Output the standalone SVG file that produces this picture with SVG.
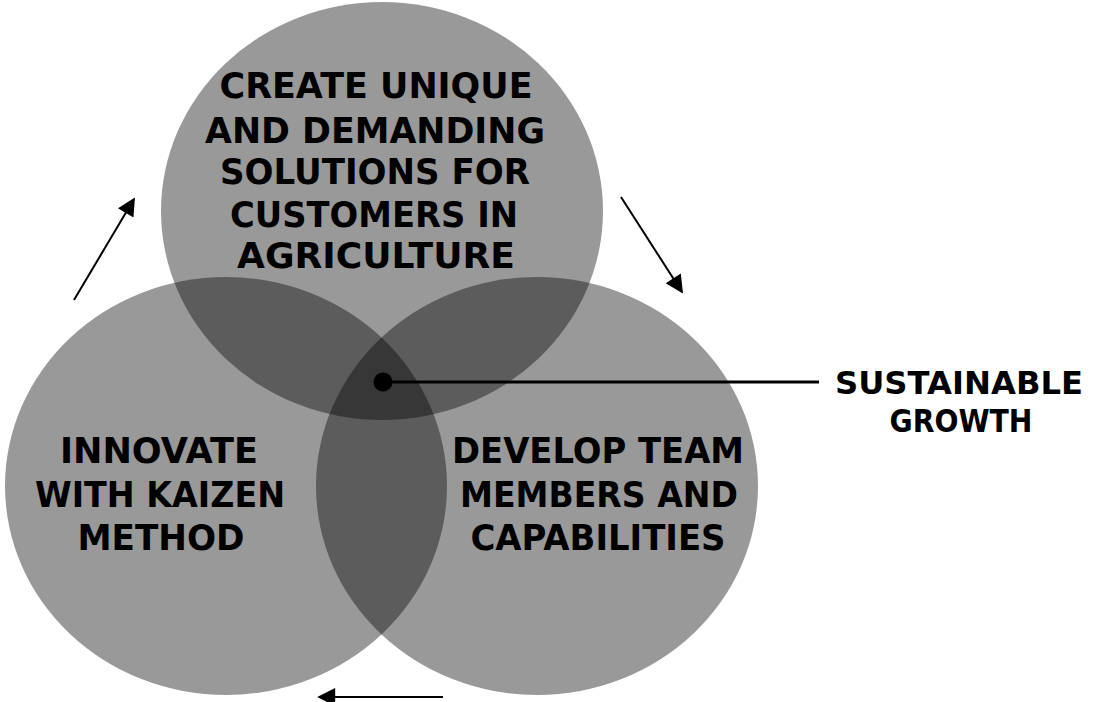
<svg xmlns="http://www.w3.org/2000/svg" width="1097" height="702" viewBox="0 0 1097 702">
<style>
.c{fill:#000;fill-opacity:0.4}
.t{font-family:"DejaVu Sans","Open Sans",sans-serif;font-weight:bold;font-size:35px;fill:#000;text-anchor:middle}
.g{font-size:32px}
.a{stroke:#000;stroke-width:2;fill:none}
</style>
<defs>
<marker id="ah" viewBox="0 0 10 10" refX="9" refY="5" markerWidth="20" markerHeight="18" markerUnits="userSpaceOnUse" orient="auto">
<path d="M0,0 L10,5 L0,10 Z" fill="#000"/>
</marker>
</defs>
<rect width="1097" height="702" fill="#fff"/>
<g id="top"><ellipse class="c" cx="382" cy="211" rx="221" ry="209"/>
<text class="t" x="376" y="98" textLength="313" lengthAdjust="spacingAndGlyphs">CREATE UNIQUE</text>
<text class="t" x="375" y="143" textLength="340" lengthAdjust="spacingAndGlyphs">AND DEMANDING</text>
<text class="t" x="375" y="184" textLength="310" lengthAdjust="spacingAndGlyphs">SOLUTIONS FOR</text>
<text class="t" x="374" y="227" textLength="288" lengthAdjust="spacingAndGlyphs">CUSTOMERS IN</text>
<text class="t" x="376" y="268" textLength="278" lengthAdjust="spacingAndGlyphs">AGRICULTURE</text></g>
<g id="left"><ellipse class="c" cx="226" cy="486" rx="221" ry="209"/>
<text class="t" x="159" y="463" textLength="198" lengthAdjust="spacingAndGlyphs">INNOVATE</text>
<text class="t" x="160" y="507" textLength="250" lengthAdjust="spacingAndGlyphs">WITH KAIZEN</text>
<text class="t" x="161" y="550" textLength="167" lengthAdjust="spacingAndGlyphs">METHOD</text></g>
<g id="right"><ellipse class="c" cx="537" cy="486" rx="221" ry="209"/>
<text class="t" x="598" y="463" textLength="292" lengthAdjust="spacingAndGlyphs">DEVELOP TEAM</text>
<text class="t" x="599" y="507" textLength="278" lengthAdjust="spacingAndGlyphs">MEMBERS AND</text>
<text class="t" x="598" y="550" textLength="255" lengthAdjust="spacingAndGlyphs">CAPABILITIES</text></g>
<g id="growth">
<text class="t g" x="959" y="394" textLength="248" lengthAdjust="spacingAndGlyphs">SUSTAINABLE</text>
<text class="t g" x="961" y="432" textLength="143" lengthAdjust="spacingAndGlyphs">GROWTH</text></g>
<g id="connectors">
<line class="a" x1="74" y1="300" x2="134" y2="199" marker-end="url(#ah)"/>
<line class="a" x1="621" y1="197" x2="682" y2="292" marker-end="url(#ah)"/>
<line class="a" x1="443" y1="697" x2="319" y2="697" marker-end="url(#ah)"/>
<circle cx="383" cy="382" r="9.5" fill="#000"/>
<line x1="383" y1="382" x2="819" y2="382" stroke="#000" stroke-width="3"/>
</g>
</svg>
